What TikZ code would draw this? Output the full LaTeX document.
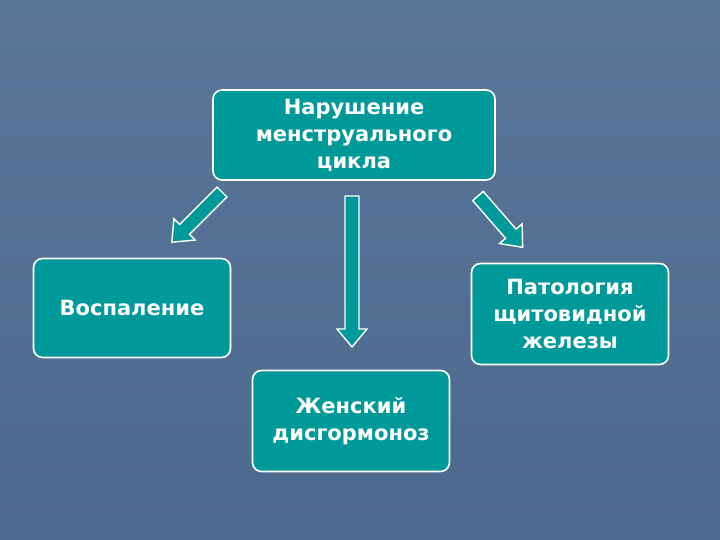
\documentclass[tikz,border=0pt]{standalone}
\usepackage{fontspec}
\setmainfont{DejaVu Sans}
\begin{document}
\begin{tikzpicture}[x=1pt,y=1pt,
  box/.style={draw=white,line width=1.6pt,fill=boxc,rounded corners=9pt,text=white,font=\bfseries\fontsize{21}{27}\selectfont,align=center,inner sep=0pt},
  barrow/.style={draw=white,line width=1.4pt,fill=boxc,line join=miter}]
\definecolor{bg}{HTML}{4F6E93}
\definecolor{boxc}{HTML}{00999A}
\shade[top color=bg!94!white, bottom color=bg!96!black] (0,0) rectangle (720,540);
\useasboundingbox (0,0) rectangle (720,540);
\node[box,minimum width=282pt,minimum height=90pt] (top) at (354,405) {Нарушение\\менструального\\цикла};
\node[box,minimum width=197pt,minimum height=99pt] (left) at (132,232) {Воспаление};
\node[box,minimum width=197pt,minimum height=101pt] (right) at (570,226) {Патология\\щитовидной\\железы};
\node[box,minimum width=197pt,minimum height=101pt] (bottom) at (351,119) {Женский\\дисгормоноз};
\newcommand{\blockarr}[4]{% x y angle length
  \begin{scope}[shift={(#1,#2)},rotate=#3]
    \draw[barrow] (0,-7) -- (#4-18,-7) -- (#4-18,-15) -- (#4,0) -- (#4-18,15) -- (#4-18,7) -- (0,7) -- cycle;
  \end{scope}}
\blockarr{222}{348}{225}{71}
\blockarr{352}{344}{-90}{151}
\blockarr{478}{344}{-49}{68}
\end{tikzpicture}
\end{document}
